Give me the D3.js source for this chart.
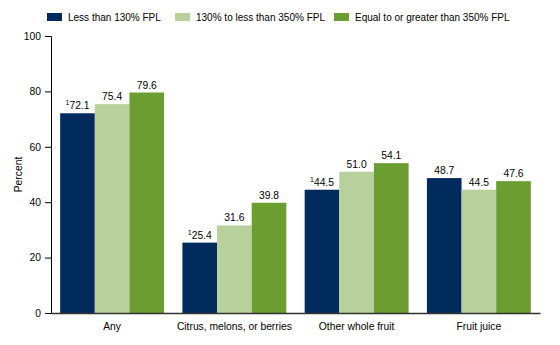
<!DOCTYPE html>
<html>
<head>
<meta charset="utf-8">
<script src="https://cdn.jsdelivr.net/npm/d3@7"></script>
<style>
  body { margin: 0; background: #fff; }
  text { font-family: "Liberation Sans", Arial, sans-serif; }
</style>
</head>
<body>
<div id="chart"></div>
<script>
  const categories = ["Any", "Citrus, melons, or berries", "Other whole fruit", "Fruit juice"];
  const seriesNames = ["Less than 130% FPL", "130% to less than 350% FPL", "Equal to or greater than 350% FPL"];
  const lowIncome = [72.1, 25.4, 44.5, 48.7];
  const midIncome = [75.4, 31.6, 51.0, 44.5];
  const highIncome = [79.6, 39.8, 54.1, 47.6];
  const footnoted = [true, true, true, false]; // superscript 1 on low income labels
  const yTicks = [0, 20, 40, 60, 80, 100];

  const colors = ["#002b5c", "#b8d09c", "#6b9d30"];
  const series = [lowIncome, midIncome, highIncome];

  const width = 560, height = 345;
  const margin = { top: 36, right: 20, bottom: 32, left: 51 };
  const fs = 10.3;

  const svg = d3.select("#chart").append("svg")
    .attr("width", width)
    .attr("height", height);

  const x0 = d3.scaleBand()
    .domain(categories)
    .range([margin.left, width - margin.right])
    .paddingInner(0.15)
    .paddingOuter(0.075);

  const x1 = d3.scaleBand()
    .domain(d3.range(series.length))
    .range([0, x0.bandwidth()]);

  const y = d3.scaleLinear()
    .domain([0, 100])
    .range([height - margin.bottom, margin.top]);

  // bars
  const groups = svg.append("g").selectAll("g")
    .data(categories)
    .join("g")
    .attr("transform", d => `translate(${x0(d)},0)`);

  groups.selectAll("rect")
    .data((d, i) => series.map((s, j) => ({ j, v: s[i] })))
    .join("rect")
    .attr("x", d => x1(d.j))
    .attr("y", d => y(d.v))
    .attr("width", x1.bandwidth())
    .attr("height", d => y(0) - y(d.v))
    .attr("fill", d => colors[d.j]);

  // value labels
  groups.each(function (cat, i) {
    const g = d3.select(this);
    series.forEach((s, j) => {
      const t = g.append("text")
        .attr("x", x1(j) + x1.bandwidth() / 2)
        .attr("y", y(s[i]) - 4)
        .attr("text-anchor", "middle")
        .attr("font-size", fs)
        .attr("fill", "#000");
      if (j === 0 && footnoted[i]) {
        t.append("tspan").attr("font-size", 7).attr("dy", -4).text("1");
        t.append("tspan").attr("dy", 4).text(s[i].toFixed(1));
      } else {
        t.text(s[i].toFixed(1));
      }
    });
  });

  // y axis
  const yAxis = svg.append("g")
    .attr("transform", `translate(${margin.left},0)`)
    .call(d3.axisLeft(y).tickValues(yTicks).tickSize(6).tickPadding(4));
  yAxis.select(".domain").attr("stroke", "#000");
  yAxis.selectAll(".tick line").attr("stroke", "#000");
  yAxis.selectAll(".tick text")
    .attr("font-size", fs)
    .attr("fill", "#000")
    .style("font-family", "'Liberation Sans', Arial, sans-serif");

  // x axis
  const xAxis = svg.append("g")
    .attr("transform", `translate(0,${y(0)})`)
    .call(d3.axisBottom(x0).tickSize(0).tickPadding(10));
  xAxis.select(".domain").attr("stroke", "#333").attr("stroke-width", 1.5);
  xAxis.selectAll(".tick text")
    .attr("font-size", fs)
    .attr("fill", "#000")
    .style("font-family", "'Liberation Sans', Arial, sans-serif");

  // y label
  svg.append("text")
    .attr("transform", `translate(22,${(y(0) + y(100)) / 2}) rotate(-90)`)
    .attr("text-anchor", "middle")
    .attr("font-size", fs)
    .text("Percent");

  // legend
  const legendX = [47, 175, 334];
  const legend = svg.append("g").selectAll("g")
    .data(seriesNames)
    .join("g")
    .attr("transform", (d, i) => `translate(${legendX[i]},13)`);
  legend.append("rect")
    .attr("width", 15)
    .attr("height", 8)
    .attr("fill", (d, i) => colors[i]);
  legend.append("text")
    .attr("x", 21)
    .attr("y", 8)
    .attr("font-size", 10)
    .text(d => d);
</script>
</body>
</html>
